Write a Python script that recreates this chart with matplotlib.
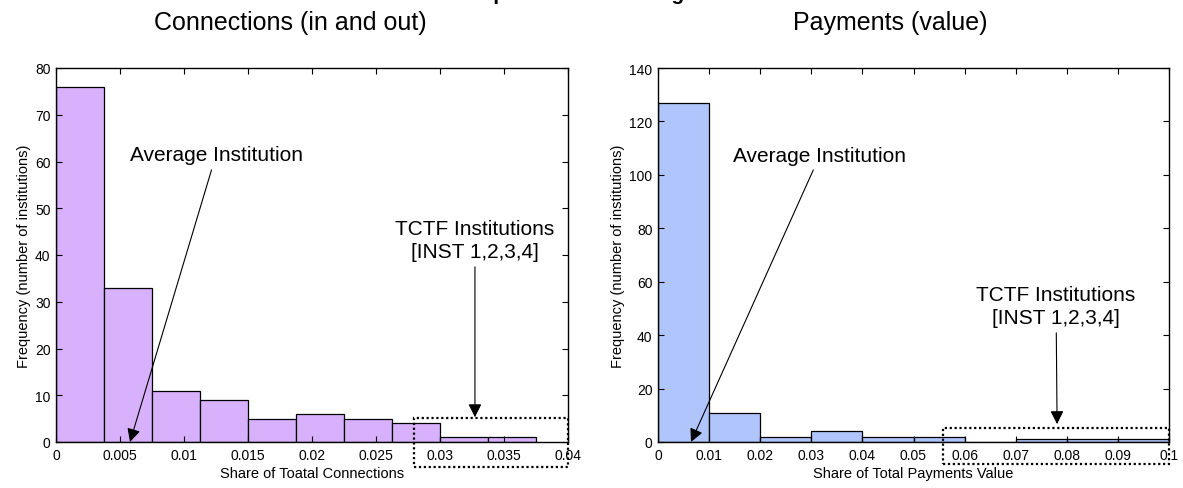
import matplotlib
matplotlib.use("Agg")
import matplotlib.pyplot as plt
from matplotlib.patches import Rectangle
import numpy as np

plt.rcParams['font.family'] = ['Liberation Sans', 'DejaVu Sans']

# histogram data
conn_edges = [0, 0.00375, 0.0075, 0.01125, 0.015, 0.01875, 0.0225, 0.02625, 0.03, 0.03375, 0.0375]
conn_counts = [76, 33, 11, 9, 5, 6, 5, 4, 1, 1]
conn_ticks = [0, 0.005, 0.01, 0.015, 0.02, 0.025, 0.03, 0.035, 0.04]
conn_ticklabels = ['0', '0.005', '0.01', '0.015', '0.02', '0.025', '0.03', '0.035', '0.04']

pay_edges = [0, 0.01, 0.02, 0.03, 0.04, 0.05, 0.06, 0.07, 0.08, 0.09, 0.1]
pay_counts = [127, 11, 2, 4, 2, 2, 0, 1, 1, 1]
pay_ticks = [0, 0.01, 0.02, 0.03, 0.04, 0.05, 0.06, 0.07, 0.08, 0.09, 0.1]
pay_ticklabels = ['0', '0.01', '0.02', '0.03', '0.04', '0.05', '0.06', '0.07', '0.08', '0.09', '0.1']

W, H = 1183, 489
fig = plt.figure(figsize=(W / 100, H / 100), dpi=100)

def px_axes(x0, y0, x1, y1):
    return fig.add_axes([x0 / W, 1 - y1 / H, (x1 - x0) / W, (y1 - y0) / H])

def draw_hist(ax, edges, counts, color, ymax, xmax, ticks, labels, xlabel):
    edges = np.asarray(edges)
    ax.bar(edges[:-1], counts, width=np.diff(edges), align='edge',
           color=color, edgecolor='black', linewidth=0.9)
    ax.set_xlim(0, xmax)
    ax.set_ylim(0, ymax)
    ax.set_xticks(ticks)
    ax.set_xticklabels(labels)
    ax.tick_params(direction='in', top=True, right=True, length=4,
                   labelsize=10, pad=4)
    for s in ax.spines.values():
        s.set_linewidth(1.0)
    ax.set_xlabel(xlabel, fontsize=10.5, labelpad=3)
    ax.set_ylabel('Frequency (number of institutions)', fontsize=10.5, labelpad=3)

ax1 = px_axes(56, 69, 568, 443)
draw_hist(ax1, conn_edges, conn_counts, '#D8B1FD', 80, 0.04,
          conn_ticks, conn_ticklabels, 'Share of Toatal Connections')

ax2 = px_axes(658, 69, 1169, 443)
draw_hist(ax2, pay_edges, pay_counts, '#B0C5FB', 140, 0.1,
          pay_ticks, pay_ticklabels, 'Share of Total Payments Value')

arrow = dict(arrowstyle='-|>', color='black', lw=0.8, mutation_scale=20,
             shrinkA=2, shrinkB=0)

# left panel annotations
ax1.annotate('Average Institution', xy=(0.00578, 0), xytext=(0.0125, 61.4),
             ha='center', va='center', fontsize=15, arrowprops=arrow)
ax1.annotate('TCTF Institutions\n[INST 1,2,3,4]', xy=(0.03273, 5.3), xytext=(0.03273, 43.2),
             ha='center', va='center', fontsize=15, linespacing=1.3,
             arrowprops=arrow, annotation_clip=False)
ax1.add_patch(Rectangle((0.028, -5.35), 0.012, 10.45, fill=False,
                        linestyle=(0, (1, 1.2)), linewidth=1.6, edgecolor='black',
                        clip_on=False))

# right panel annotations
ax2.annotate('Average Institution', xy=(0.00646, 0), xytext=(0.0317, 107.4),
             ha='center', va='center', fontsize=15, arrowprops=arrow)
ax2.annotate('TCTF Institutions\n[INST 1,2,3,4]', xy=(0.0781, 6.7), xytext=(0.0779, 50.9),
             ha='center', va='center', fontsize=15, linespacing=1.3,
             arrowprops=arrow, annotation_clip=False)
ax2.add_patch(Rectangle((0.0558, -8.2), 0.0442, 13.4, fill=False,
                        linestyle=(0, (1, 1.2)), linewidth=1.6, edgecolor='black',
                        clip_on=False))

# panel titles and the main heading, cut off at the top as in the source
fig.text(290 / W, 1 - 23 / H, 'Connections (in and out)', ha='center', va='center', fontsize=18)
fig.text(890 / W, 1 - 23 / H, 'Payments (value)', ha='center', va='center', fontsize=18)
fig.text(603 / W, 1.0, 'Importance of the Big Four', ha='center', va='baseline',
         fontsize=15, fontweight='bold')

fig.savefig('out.png', dpi=100)
